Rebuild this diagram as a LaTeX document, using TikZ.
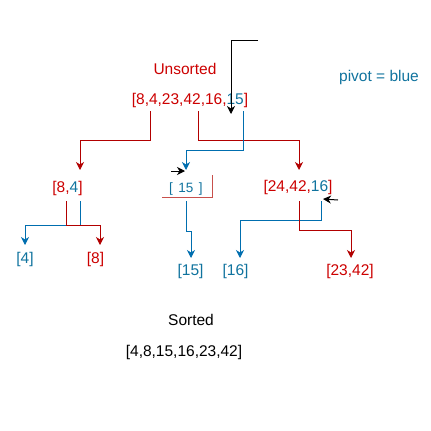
\documentclass[tikz,border=0pt]{standalone}
\usepackage{fontspec}
\setmainfont{Liberation Sans}
\usetikzlibrary{arrows.meta}
\definecolor{rtext}{RGB}{204,0,0}
\definecolor{rline}{RGB}{178,0,0}
\definecolor{btext}{RGB}{16,115,158}
\definecolor{bline}{RGB}{0,110,175}
\definecolor{boxred}{RGB}{200,80,76}
\tikzset{
  lbl/.style={anchor=base, inner sep=0pt, outer sep=0pt, font=\fontsize{15.5}{18}\selectfont},
  small/.style={anchor=base, inner sep=0pt, outer sep=0pt, font=\fontsize{13.5}{16}\selectfont},
  tip/.style={-{Stealth[length=8pt,width=8pt,inset=2.5pt]}},
  rl/.style={draw=rline, line width=1pt, tip, rline},
  bl/.style={draw=bline, line width=1pt, tip, bline},
  kl/.style={draw=black, line width=1pt, tip, black},
}
\begin{document}
\begin{tikzpicture}[x=1pt,y=-1pt]
\useasboundingbox (0,0) rectangle (431,431);
% text nodes
\node[lbl, text=rtext] (uns) at (185,74) {Unsorted};
\node[lbl] (top) at (190,104) {\textcolor{rtext}{[8,4,23,42,16,}\textcolor{btext}{15}\textcolor{rtext}{]}};
\node[lbl, text=btext] (piv) at (379,81) {pivot = blue};
\node[lbl] (a) at (67.5,192) {\textcolor{rtext}{[8,}\textcolor{btext}{4}\textcolor{rtext}{]}};
\node[small, text=btext] (b) at (186,192) {[\hspace{5.5pt}15\hspace{5.5pt}]};
\node[lbl] (c) at (298,191) {\textcolor{rtext}{[24,42,}\textcolor{btext}{16}\textcolor{rtext}{]}};
\node[lbl, text=btext] (a1) at (25,263) {[4]};
\node[lbl, text=rtext] (a2) at (95.5,263) {[8]};
\node[lbl, text=btext] (b1) at (190.5,275) {[15]};
\node[lbl, text=btext] (c1) at (235.5,275) {[16]};
\node[lbl, text=rtext] (c2) at (350,275) {[23,42]};
\node[lbl] (srt) at (191,325) {Sorted};
\node[lbl] (res) at (184,356) {[4,8,15,16,23,42]};
% anchor points
\coordinate (t1) at (150,111);
\coordinate (t2) at (198,111);
\coordinate (t3) at (243,111);
\coordinate (ain) at (80,170);
\coordinate (cin) at (299,170);
\coordinate (bin) at (186,170);
\coordinate (p0) at (258,40);
\coordinate (p1) at (231,114);
\coordinate (s0) at (171,171);
\coordinate (s1) at (185,171);
\coordinate (q0) at (338,200);
\coordinate (q1) at (323,199);
\coordinate (ar) at (66,201);
\coordinate (ab) at (80,201);
\coordinate (a1in) at (25,245);
\coordinate (a2in) at (100,245);
\coordinate (bo) at (186,201);
\coordinate (b1in) at (191,258);
\coordinate (cb) at (321,201);
\coordinate (cr) at (299,201);
\coordinate (c1in) at (240,258);
\coordinate (c2in) at (351,258);
% connectors level 1
\draw[rl] (t1) -- (150,140) -| (ain);
\draw[rl] (t2) -- (198,140) -| (cin);
\draw[bl] (t3) -- (243,150) -| (bin);
\draw[kl] (p0) -| (p1);
\draw[kl] (s0) -- (s1);
% box under [ 15 ]
\draw[boxred, line width=1pt] (162,197) -- (212,197) -- (212,175);
% level 2
\draw[bl] (ab) -- (80,225) -| (a1in);
\draw[rl] (ar) -- (66,225) -| (a2in);
\draw[bl] (bo) -- (186,231) -| (b1in);
\draw[bl] (cb) -- (321,220) -| (c1in);
\draw[rl] (cr) -- (299,230) -| (c2in);
\draw[kl] (q0) -- (q1);
\end{tikzpicture}
\end{document}
